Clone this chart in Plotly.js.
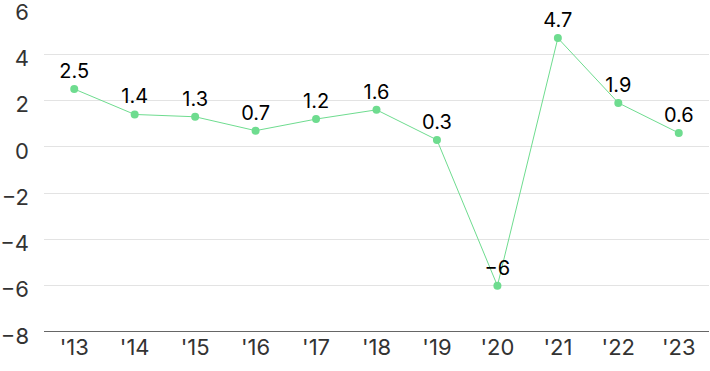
<!DOCTYPE html>
<html><head><meta charset="utf-8">
<script src="https://cdn.plot.ly/plotly-3.0.1.min.js"></script>
<style>html,body{margin:0;padding:0;background:#fff}</style>
</head><body>
<div id="chart" style="width:710px;height:371px"></div>
<script>
const years = ["'13","'14","'15","'16","'17","'18","'19","'20","'21","'22","'23"];
const values = [2.5,1.4,1.3,0.7,1.2,1.6,0.3,-6,4.7,1.9,0.6];
const labels = ["2.5","1.4","1.3","0.7","1.2","1.6","0.3","−6","4.7","1.9","0.6"];
const yTicks = [-8,-6,-4,-2,0,2,4,6];
const yTickText = ["−8","−6","−4","−2","0","2","4","6"];

Plotly.newPlot('chart', [{
  x: years, y: values, type: 'scatter', mode: 'lines+markers+text',
  text: labels, textposition: 'top center',
  textfont: {family: 'Inter, Roboto, sans-serif', size: 20, color: '#000'},
  line: {color: '#6edc8f', width: 1},
  marker: {color: '#6edc8f', size: 8},
  cliponaxis: false, hoverinfo: 'none'
}], {
  width: 710, height: 371,
  margin: {l: 44, r: 1, t: 8, b: 39},
  paper_bgcolor: '#fff', plot_bgcolor: '#fff',
  showlegend: false,
  font: {family: 'Inter, Roboto, sans-serif', size: 22, color: '#333'},
  xaxis: {type: 'category', range: [-0.5, 10.5], showgrid: false, zeroline: false,
    showline: false, ticks: '', tickfont: {size: 22, color: '#333'}, ticklabeloverflow: 'allow'},
  yaxis: {range: [-8, 6], tickvals: yTicks, ticktext: yTickText, showgrid: true,
    gridcolor: '#e3e3e3', gridwidth: 1, zeroline: false, ticks: '',
    ticklabelstandoff: 14, ticklabelshift: 4, ticklabeloverflow: 'allow',
    tickfont: {size: 22, color: '#333'}},
  shapes: [{type: 'line', xref: 'paper', yref: 'y', x0: 0, x1: 1, y0: -8, y1: -8,
    line: {color: '#333', width: 1.5}}]
}, {staticPlot: true});
</script>
</body></html>
